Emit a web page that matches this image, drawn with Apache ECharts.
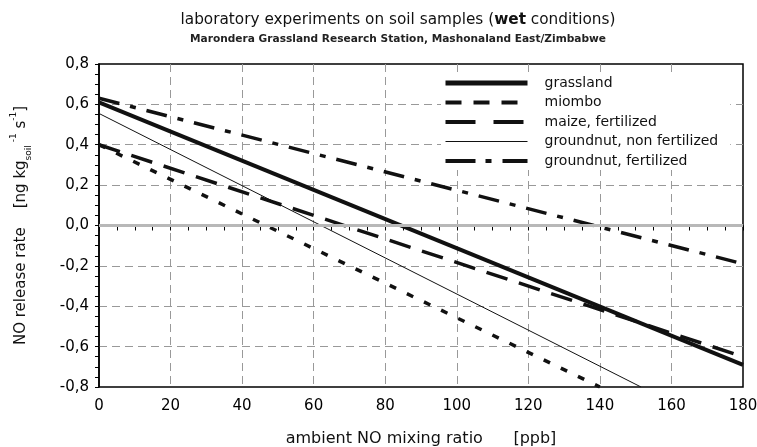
<!DOCTYPE html>
<html lang="en">
<head>
<meta charset="UTF-8">
<title>NO release rate</title>
<script src="https://cdn.jsdelivr.net/npm/echarts@6/dist/echarts.min.js"></script>
<style>
  body{margin:0;background:#fff}
  #main{width:757px;height:447px}
</style>
</head>
<body>
<div id="main"></div>
<script>
// line end points [ppb, ng kg-1 s-1]
var grassland   = [[0, 0.61], [180, -0.69]];
var miombo      = [[0, 0.40], [140, -0.80]];
var maizeFert   = [[0, 0.40], [180, -0.65]];
var gnutNonFert = [[0, 0.555], [151.5, -0.80]];
var gnutFert    = [[0, 0.63], [180, -0.19]];

var names = ['grassland', 'miombo', 'maize, fertilized', 'groundnut, non fertilized', 'groundnut, fertilized'];

var FONT = 'DejaVu Sans';
var chart = echarts.init(document.getElementById('main'));

function mkLine(name, data, width, dash) {
  return {
    name: name,
    type: 'line',
    data: data,
    symbol: 'none',
    showSymbol: false,
    animation: false,
    silent: true,
    color: '#111',
    lineStyle: {color: '#111', width: width, type: dash, cap: 'butt'}
  };
}

var series = [
  mkLine(names[0], grassland, 4, 'solid'),
  mkLine(names[1], miombo, 3.5, [7, 12]),
  mkLine(names[2], maizeFert, 3.5, [22, 12]),
  mkLine(names[3], gnutNonFert, 1, 'solid'),
  mkLine(names[4], gnutFert, 3.5, [21, 11, 6, 11])
];
// light grey zero line
series[0].markLine = {
  silent: true,
  symbol: ['none', 'none'],
  label: {show: false},
  lineStyle: {color: '#b8b8b8', width: 3, type: 'solid'},
  data: [{yAxis: 0}]
};

// legend keys are drawn a bit longer than on the lines
var legendData = [
  {name: names[0], lineStyle: {width: 5, type: 'solid'}},
  {name: names[1], lineStyle: {width: 4, type: [16, 12]}},
  {name: names[2], lineStyle: {width: 4, type: [30, 18]}},
  {name: names[3], lineStyle: {width: 1.2, type: 'solid'}},
  {name: names[4], lineStyle: {width: 4, type: [30, 10, 6, 11]}}
];

var option = {
  animation: false,
  backgroundColor: '#fff',
  title: {
    text: 'laboratory experiments on soil samples ({b|wet} conditions)',
    subtext: 'Marondera Grassland Research Station, Mashonaland East/Zimbabwe',
    left: 393,
    textAlign: 'center',
    top: 8,
    itemGap: 6,
    textStyle: {
      fontFamily: FONT, fontSize: 15.3, fontWeight: 'normal', color: '#111',
      rich: {b: {fontFamily: FONT, fontSize: 15.3, fontWeight: 'bold', color: '#111'}}
    },
    subtextStyle: {fontFamily: FONT, fontSize: 10.6, fontWeight: 'bold', color: '#222'}
  },
  legend: {
    orient: 'vertical',
    left: 441,
    top: 74,
    itemWidth: 82,
    itemHeight: 14,
    itemGap: 5.5,
    backgroundColor: '#fff',
    padding: [2, 12, 2, 2],
    itemStyle: {opacity: 0},
    textStyle: {fontFamily: FONT, fontSize: 14, color: '#111', padding: [0, 0, 0, 12]},
    data: legendData
  },
  grid: {
    left: 99, right: 14, top: 64, bottom: 60,
    outerBoundsMode: 'none',
    containLabel: false,
    show: true, borderColor: '#000', borderWidth: 1.5
  },
  xAxis: {
    type: 'value', min: 0, max: 180, interval: 20,
    name: 'ambient NO mixing ratio      [ppb]',
    nameLocation: 'middle', nameGap: 44,
    nameTextStyle: {fontFamily: FONT, fontSize: 16, color: '#111'},
    axisLine: {lineStyle: {color: '#000', width: 1.5}},
    axisTick: {inside: false, length: 5, lineStyle: {color: '#000'}},
    minorTick: {show: true, splitNumber: 4, length: 5, lineStyle: {color: '#000'}},
    splitLine: {showMinLine: false, showMaxLine: false, lineStyle: {color: '#999', type: [8, 5], width: 1}},
    axisLabel: {fontFamily: FONT, fontSize: 15, color: '#000', margin: 12}
  },
  yAxis: {
    type: 'value', min: -0.8, max: 0.8, interval: 0.2,
    name: 'NO release rate    [ng kg{sub|soil}{sup| -1} s{sup|-1}]',
    nameLocation: 'middle', nameGap: 66,
    nameTextStyle: {
      fontFamily: FONT, fontSize: 15, color: '#111', lineHeight: 24,
      rich: {
        sub: {fontFamily: FONT, fontSize: 9, color: '#111', verticalAlign: 'bottom', lineHeight: 24},
        sup: {fontFamily: FONT, fontSize: 9, color: '#111', verticalAlign: 'top', lineHeight: 24}
      }
    },
    axisLine: {lineStyle: {color: '#000', width: 1.5}},
    axisTick: {inside: false, length: 4, lineStyle: {color: '#000'}},
    minorTick: {show: true, splitNumber: 4, length: 4, lineStyle: {color: '#000'}},
    splitLine: {showMinLine: false, showMaxLine: false, lineStyle: {color: '#999', type: [8, 5], width: 1}},
    axisLabel: {
      fontFamily: FONT, fontSize: 15, color: '#000', margin: 10,
      formatter: function (v) { return v.toFixed(1).replace('.', ','); }
    }
  },
  series: series
};
chart.setOption(option);
</script>
</body>
</html>
